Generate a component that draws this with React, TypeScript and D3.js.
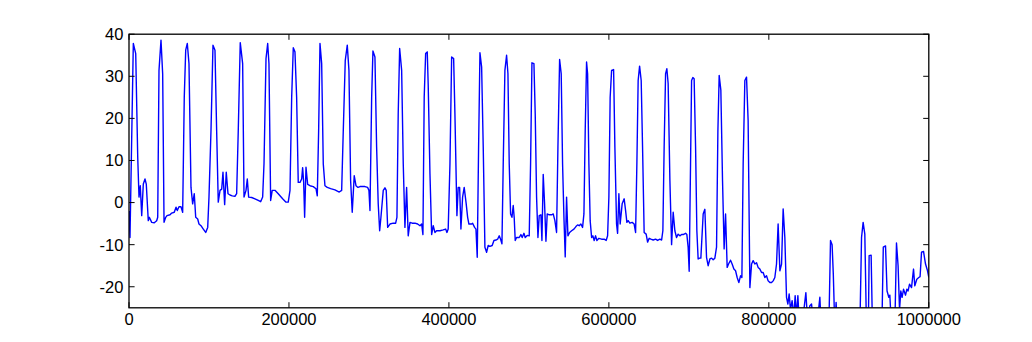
import React from "react";
import * as d3 from "d3";

// x: sample time, y: signal value (pairs), split in four stretches
const segmentA: [number, number][] = [
  [0,-2],[1250,-8.3],[5400,37.8],[8400,35.4],[10900,10.8],[12500,1.3],[14100,4],[15900,-3.1],[17900,4.4],[20000,5.6],
  [21600,4.4],[24100,-4.3],[25400,-3.5],[28400,-4.7],[31600,-4.8],[34600,-4.3],[35900,-3.5],[37500,31.4],[40000,38.6],[42100,30.6],
  [43800,-4.7],[45900,-3.5],[47500,-3.1],[51300,-2.9],[53400,-2.5],[56600,-2.3],[58800,-1.1],[60400,-1.9],[62500,-1.0],[65000,-1.0],
  [67100,-2.3],[69100,25],[70900,36.2],[72900,37.8],[75000,33],[77500,3.6],[79600,-0.3],[81600,2.1],[83400,-3.5],[85900,-3.9],
  [87500,-5.1],[90000,-5.5],[92900,-6.3],[95900,-7.1],[98400,-5.9],[100000,1.3],[102500,17],[105000,37.4],[107500,36.2],[109600,17],
  [111600,0.1],[113800,2.9],[115900,3.2],[117500,7.2],[119600,-0.5],[121600,7.2],[123800,2.1],[126300,1.8],[129100,1.6],[132500,1.5],
  [134600,2.1],[136600,17],[139100,38],[142100,33],[143800,1.3],[146300,2.9],[147900,5.6],[149600,1.3],[153400,1.2],[157500,0.9],
  [161600,0.5],[164600,0.2],[167100,1.3],[168800,9.2],[171300,34.2],[173400,37.8],[175000,33],[177100,0.5],[179100,2.9],[182500,2.9],
  [186600,2.1],[192100,0.9],[196300,0.1],[199100,0.1],
];

const segmentB: [number, number][] = [
  [201300,2.9],[203400,25],[205400,36.8],[207500,35.8],[209600,25],[211600,4.8],[213800,4.8],[215900,5.6],[217100,8.3],[218400,4.8],
  [219600,-3.5],[221300,8.4],[223400,4.3],[226300,4.0],[230400,3.8],[233800,3.3],[235400,1.6],[237100,17],[238800,37.8],[240900,33],
  [242900,9.2],[245000,4],[247900,3.6],[252100,3.3],[257500,3.0],[262900,2.5],[265900,2.9],[267900,17],[270400,33.8],[272900,37.4],
  [275000,31.4],[277100,5.2],[279100,-2.3],[281600,6.4],[283800,4],[286300,3.6],[288800,3.8],[295000,3.8],[298400,3.6],[300000,2.9],
  [301300,-1.9],[303400,25],[305000,36],[307500,34.6],[309600,13.2],[311600,-0.3],[313400,-6.7],[315000,-3.5],[317900,2.9],[320000,3.5],
  [321600,2.9],[323400,-5.9],[326300,-5.1],[330400,-4.9],[333400,-4.9],[335000,-3.5],[336600,21.1],[338400,36.6],[340900,31.4],[342900,9.2],
  [345000,-5.9],[347100,3.6],[349100,-7.9],[351300,-4.7],[354100,-4.9],[357500,-4.9],[360900,-5.1],[363800,-5.5],[365900,-5.1],[367500,-7.6],
  [369100,25],[370900,35.4],[372900,35.8],[374100,28],[376300,6.8],[378400,-7.6],[380400,-5.5],[382500,-7.1],[384600,-6.7],[388800,-6.7],
  [392900,-6.5],[395900,-6.3],[397500,-7.1],[399100,-6.3],
];

const segmentC: [number, number][] = [
  [401300,9.2],[403400,34.6],[405900,34.2],[407500,21.1],[410000,-3.1],[411600,3.6],[413400,3.6],[415000,-6.3],[417100,1.3],[419100,3.6],
  [421600,-0.3],[423400,-3.5],[425000,-5.1],[428400,-5.1],[429600,-4.9],[432100,-5.9],[433800,-6.3],[435400,-13],[437100,13.2],[438800,35.6],
  [440900,32.2],[442900,13.2],[445000,-10.6],[447100,-11.8],[449100,-10.2],[451300,-10.4],[454100,-10.2],[456300,-9.0],[458800,-8.9],[460900,-8.7],
  [462900,-7.9],[464600,-8.7],[466300,-9.8],[467900,9.2],[470000,31.4],[472100,35],[473800,30.6],[475400,9.2],[477100,-2.7],[478800,-3.5],
  [480400,-0.7],[481600,-3.5],[482900,-9],[484600,-8.3],[487900,-8.3],[490000,-7.6],[491600,-8.3],[493800,-7.3],[495400,-8.3],[497900,-7.8],
  [500400,-7.9],[502100,9.2],[503800,33.2],[506300,33],[507900,21.1],[509600,1.3],[511300,-8.3],[512900,-3.1],[515000,-2.9],[516300,-9],
  [517900,6.7],[519600,-0.3],[521300,-9.2],[522900,-2.7],[525400,-2.9],[528400,-2.9],[530400,-2.7],[532500,-4.3],[534600,-7.1],[536300,13.2],
  [538400,34],[540400,30.6],[542100,9.2],[543800,-3.5],[545400,-12.9],[547100,1.3],[548800,-7.9],[550900,-7.1],[553400,-6.7],[556300,-6.3],
  [558800,-5.7],[560900,-5.3],[562900,-5.5],[565000,-5.1],[567100,-5.9],[568800,-2.7],[570400,17],[572100,33.4],[573400,30.6],[575000,9.2],
  [576600,-4.3],[578400,-8.3],[580000,-7.9],[581600,-9],[583400,-7.9],[585000,-9],[587500,-8.5],[590900,-8.7],[594100,-8.7],[596600,-9],
  [598400,-7.9],
];

const segmentD: [number, number][] = [
  [600000,1.3],[601600,25],[603400,31.4],[605900,31.6],[607500,13.2],[609600,-5.1],[610900,-7.3],[612500,2.1],[614100,-5.1],[616600,-0.3],
  [619100,0.9],[620900,-1.9],[622500,-4.7],[624100,-4.3],[626300,-4.9],[629100,-4.7],[631600,-5.1],[633400,-7.1],[635000,9.2],[636600,29],
  [638400,32.4],[640400,29],[642100,13.2],[644100,-7.1],[646600,-7.5],[648400,-9.4],[650400,-8.5],[652500,-8.7],[655400,-8.9],[658400,-8.7],
  [660900,-9],[663800,-8.7],[665900,-8.9],[667500,-6.7],[669100,13.2],[670900,30.6],[672500,31.8],[674100,28.3],[676300,5.2],[678400,-10],
  [680400,-2.3],[682500,-6.7],[684600,-8.3],[686600,-7.5],[688800,-7.9],[690900,-7.6],[692900,-7.6],[695900,-7.3],[697500,-7.6],[699100,-10.6],
  [700400,-16.3],[702100,9.2],[703400,29],[705000,29.7],[706600,29.4],[708400,13.2],[710000,-6.7],[711600,-13.4],[713400,-13.2],[715000,-13.2],
  [717900,-2.7],[720000,-1.6],[722100,-13],[724100,-15],[726300,-13.4],[728400,-13.2],[730400,-13.6],[732500,-13.2],[734600,-10.6],[736300,17],
  [737900,30.2],[740000,26.7],[742100,5.2],[744100,-11],[745900,-2.7],[747900,-15.4],[749600,-14.6],[752100,-13.7],[754100,-14.6],[756300,-15.8],
  [758400,-16.2],[760400,-17.8],[762500,-19],[764600,-17.4],[766300,-17.8],[767900,9.2],[770000,29],[772100,29.8],[774100,19.5],[776300,-20.2],
  [778400,-14.6],[780400,-13.8],[782500,-14.6],[784600,-14.3],[786600,-15.4],[788800,-15.8],[790900,-16.6],[792900,-16.6],[795000,-17.8],[797100,-17.4],
  [799100,-18.6],[801300,-19],[803400,-19],[805400,-18.6],[807500,-17.8],[809600,-14.6],[811600,-5.1],[813800,-16.2],[815900,-14.6],[817900,-1.5],
  [820000,-8.3],[822100,-22.5],[823800,-24.1],[825400,-21.7],[827100,-25.5],[829100,-23.3],[831300,-27],[832900,-22.1],[834600,-27],[836300,-22.1],
  [837900,-28],[839600,-26],[842900,-27],[846300,-21.4],[848400,-28],[851300,-24.5],[853400,-24.1],[855400,-28],[858800,-27],[861900,-26],
  [863800,-22.5],[865600,-30],[875000,-30],[877100,-9],[879100,-10],[880600,-17],[882500,-30],[884100,-23.7],[885600,-30],[913800,-30],
  [915900,-8.3],[917900,-4.7],[920000,-7.5],[922100,-30],[924400,-30],[925400,-12.6],[927900,-12.5],[929600,-30],[941300,-30],[943100,-10.6],
  [945900,-10.3],[947800,-21],[950000,-22.5],[951300,-22],[953400,-30],[957500,-30],[959600,-9.6],[961600,-15],[963400,-25.5],[965000,-21],
  [966600,-22.5],[968400,-20.6],[970900,-22],[972500,-20.6],[974100,-21],[975900,-19.4],[978400,-20.2],[980900,-15.8],[982500,-19.8],[985000,-18.2],
  [987500,-17.8],[989100,-17.6],[990900,-11.8],[993400,-11.6],[995900,-14.6],[998400,-16.2],[1000000,-17.8],
];

const xTickValues = [0, 200000, 400000, 600000, 800000, 1000000];
const yTickValues = [-20, -10, 0, 10, 20, 30, 40];
const xDomain: [number, number] = [0, 1000000];
const yDomain: [number, number] = [-25, 40];

const W = 1032;
const H = 342;
const plot = { left: 129, right: 928.8, top: 34.2, bottom: 307.8 };
const FONT = "'Liberation Sans', Arial, Helvetica, sans-serif";
const FS = 16.5;
const TICK = 5.6;

export default function App() {
  const data = [...segmentA, ...segmentB, ...segmentC, ...segmentD];
  const x = d3.scaleLinear().domain(xDomain).range([plot.left, plot.right]);
  const y = d3.scaleLinear().domain(yDomain).range([plot.bottom, plot.top]);
  const line = d3
    .line<[number, number]>()
    .x((d) => x(d[0]))
    .y((d) => y(d[1]));

  return (
    <svg
      width={W}
      height={H}
      viewBox={`0 0 ${W} ${H}`}
      style={{ position: "absolute", left: 0, top: 0, background: "#fff" }}
    >
      <rect x={0} y={0} width={W} height={H} fill="#fff" />
      <defs>
        <clipPath id="plotClip">
          <rect
            x={plot.left}
            y={plot.top}
            width={plot.right - plot.left}
            height={plot.bottom - plot.top}
          />
        </clipPath>
      </defs>
      <path
        d={line(data) || ""}
        fill="none"
        stroke="#0000ff"
        strokeWidth={1.4}
        strokeLinejoin="round"
        clipPath="url(#plotClip)"
      />
      {xTickValues.map((t) => (
        <g key={"x" + t}>
          <line x1={x(t)} x2={x(t)} y1={plot.bottom} y2={plot.bottom - TICK} stroke="#000" strokeWidth={1} />
          <line x1={x(t)} x2={x(t)} y1={plot.top} y2={plot.top + TICK} stroke="#000" strokeWidth={1} />
          <text
            x={x(t)}
            y={plot.bottom + 5.6 + 0.716 * FS}
            textAnchor="middle"
            fontFamily={FONT}
            fontSize={FS}
            fill="#000"
          >
            {String(t)}
          </text>
        </g>
      ))}
      {yTickValues.map((t) => (
        <g key={"y" + t}>
          <line x1={plot.left} x2={plot.left + TICK} y1={y(t)} y2={y(t)} stroke="#000" strokeWidth={1} />
          <line x1={plot.right} x2={plot.right - TICK} y1={y(t)} y2={y(t)} stroke="#000" strokeWidth={1} />
          <text
            x={plot.left - 5.6}
            y={y(t) + 0.358 * FS}
            textAnchor="end"
            fontFamily={FONT}
            fontSize={FS}
            fill="#000"
          >
            {t < 0 ? "-" + Math.abs(t) : String(t)}
          </text>
        </g>
      ))}
      <rect
        x={plot.left}
        y={plot.top}
        width={plot.right - plot.left}
        height={plot.bottom - plot.top}
        fill="none"
        stroke="#000"
        strokeWidth={1.3}
      />
    </svg>
  );
}
